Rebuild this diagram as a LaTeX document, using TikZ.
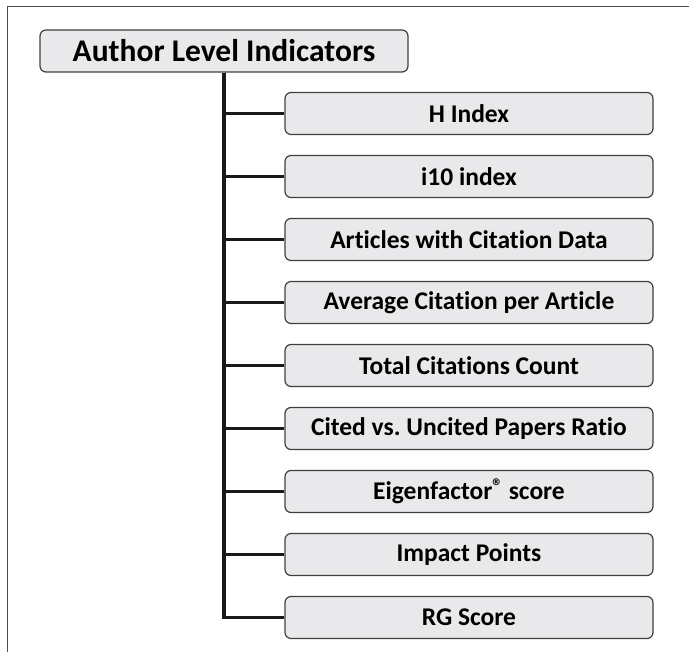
\documentclass[tikz,border=0pt]{standalone}
\usepackage{fontspec}
\setmainfont[Ligatures={NoCommon}]{Carlito}
\newcommand{\regmark}{\raisebox{0.45ex}{\fontsize{21}{21}\selectfont ®}}
\begin{document}
\begin{tikzpicture}[x=1pt,y=1pt,
  box/.style={draw=black!75, line width=1.2pt, fill=boxgray, rounded corners=6pt,
    inner sep=0pt, font=\bfseries},
  rootbox/.style={box, minimum width=368pt, minimum height=42pt, font=\bfseries\fontsize{31.5}{34}\selectfont},
  leafbox/.style={box, minimum width=368pt, minimum height=42pt, font=\bfseries\fontsize{25.5}{28}\selectfont},
  link/.style={draw=black!90, line width=3.2pt}]
\definecolor{boxgray}{HTML}{E9E9EB}
\useasboundingbox (0,0) rectangle (689,-652);
% page frame
\draw[black!70, line width=1.5pt] (7.5,-652) -- (7.5,-6.5) -- (689,-6.5);
% root
\node[rootbox] (root) at (224,-51) {Author Level Indicators};
% leaves
\foreach \name/\txt [count=\i from 0] in {
  h/H Index,
  iten/i10 index,
  acd/Articles with Citation Data,
  aca/Average Citation per Article,
  tcc/Total Citations Count,
  cur/Cited vs.\ Uncited Papers Ratio,
  eig/Eigenfactor\regmark{} score,
  imp/Impact Points,
  rg/RG Score}
  \node[leafbox] (\name) at (469,-113.5-63*\i) {\txt};
% connectors
\foreach \name in {h,iten,acd,aca,tcc,cur,eig,imp,rg}
  \draw[link] (root.south) |- (\name.west);
\end{tikzpicture}
\end{document}
